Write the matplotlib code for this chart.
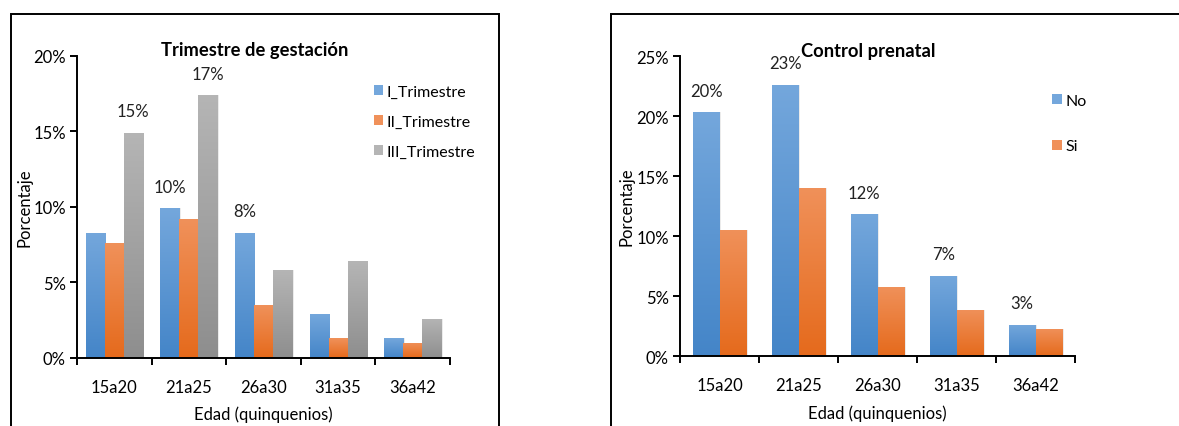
import matplotlib
matplotlib.use('Agg')
import matplotlib.pyplot as plt
import matplotlib.colors as mcolors
from matplotlib.patches import Rectangle
import numpy as np

plt.rcParams['font.family'] = ['Lato', 'DejaVu Sans']

# data
edades = ['15a20', '21a25', '26a30', '31a35', '36a42']
trim_I = [8.3, 9.9, 8.3, 2.9, 1.3]
trim_II = [7.6, 9.2, 3.5, 1.3, 1.0]
trim_III = [14.9, 17.4, 5.8, 6.4, 2.6]
ctrl_no = [20.3, 22.6, 11.8, 6.7, 2.6]
ctrl_si = [10.5, 14.0, 5.75, 3.85, 2.25]

# (top, bottom) colours of the excel style gradient
blue = ('#74a7dc', '#4485c8')
orange = ('#f0915a', '#e56a1c')
gray = ('#b5b5b5', '#8e8e8e')

FS = 12


def gradient_bars(ax, bars, cols):
    cmap = mcolors.LinearSegmentedColormap.from_list('g', [cols[1], cols[0]])
    grad = np.linspace(0, 1, 256).reshape(-1, 1)
    for b in bars:
        x0, y0 = b.get_x(), b.get_y()
        w, h = b.get_width(), b.get_height()
        # soft shadow
        ax.add_patch(Rectangle((x0 + 0.02, y0), w, h, color='#000000',
                               alpha=0.08, lw=0, zorder=1))
        im = ax.imshow(grad, extent=(x0, x0 + w, y0, y0 + h), origin='lower',
                       cmap=cmap, aspect='auto', zorder=2)
        im.set_clip_path(b)
        b.set_facecolor(cols[0])


def label_bars(ax, bars, values, which):
    for i in which:
        b = bars[i]
        ax.annotate(f'{values[i]:.0f}%', (b.get_x() + b.get_width() / 2, b.get_height()),
                    xytext=(0, 15.5), textcoords='offset points',
                    ha='center', va='center', fontsize=FS, color='#222222')


def style_axes(ax, ymax, n, xl, yl):
    ax.set_xlim(-0.5, n - 0.5)
    ax.set_ylim(0, ymax)
    for s in ['top', 'right']:
        ax.spines[s].set_visible(False)
    for s in ['left', 'bottom']:
        ax.spines[s].set_linewidth(1.4)
    ax.set_xticks(range(n))
    ax.set_xticklabels(edades, fontsize=FS)
    ax.set_xticks(np.arange(-0.5, n, 1), minor=True)
    ax.tick_params(axis='x', which='major', length=0, pad=15)
    ax.tick_params(axis='x', which='minor', length=5, width=1.4)
    ax.tick_params(axis='y', length=5, width=1.4, labelsize=FS, pad=3)
    ax.yaxis.set_major_formatter(lambda v, p: f'{v:.0f}%')
    ax.set_xlabel('Edad (quinquenios)', fontsize=FS)
    ax.set_ylabel('Porcentaje', fontsize=FS)
    ax.xaxis.set_label_coords(0.5, xl)
    ax.yaxis.set_label_coords(yl, 0.5)


fig = plt.figure(figsize=(11.79, 4.27), dpi=100)

# panel frames
fig.patches.append(Rectangle((0.0091, -0.05), 0.4141, 1.0156, transform=fig.transFigure,
                             fill=False, lw=1.4, ec='black'))
fig.patches.append(Rectangle((0.518, -0.05), 0.6, 1.0156, transform=fig.transFigure,
                             fill=False, lw=1.4, ec='black'))

# left: trimestre
ax1 = fig.add_axes([0.0653, 0.1593, 0.3164, 0.7073])
x = np.arange(len(edades))
w = 0.255
b1 = ax1.bar(x - w, trim_I, w, label='I_Trimestre', zorder=2)
b2 = ax1.bar(x, trim_II, w, label='II_Trimestre', zorder=2)
b3 = ax1.bar(x + w, trim_III, w, label='III_Trimestre', zorder=2)
gradient_bars(ax1, b1, blue)
gradient_bars(ax1, b2, orange)
gradient_bars(ax1, b3, gray)
style_axes(ax1, 20, len(edades), -0.157, -0.12)
ax1.set_yticks([0, 5, 10, 15, 20])
label_bars(ax1, b3, trim_III, [0, 1])
label_bars(ax1, b1, trim_I, [1, 2])
ax1.text(0.477, 1.02, 'Trimestre de gestación', transform=ax1.transAxes,
         ha='center', va='center', fontsize=13.2, fontweight='bold')
ax1.legend(loc='upper left', bbox_to_anchor=(0.795, 0.905), frameon=False,
           fontsize=11.5, handlelength=0.62, handleheight=0.62, handletextpad=0.2,
           labelspacing=1.0, borderpad=0, borderaxespad=0)

# right: control prenatal
ax2 = fig.add_axes([0.5768, 0.1639, 0.335, 0.7026])
w2 = 0.338
c1 = ax2.bar(x - w2 / 2, ctrl_no, w2, label='No', zorder=2)
c2 = ax2.bar(x + w2 / 2, ctrl_si, w2, label='Si', zorder=2)
gradient_bars(ax2, c1, blue)
gradient_bars(ax2, c2, orange)
style_axes(ax2, 25, len(edades), -0.16, -0.116)
ax2.set_yticks([0, 5, 10, 15, 20, 25])
label_bars(ax2, c1, ctrl_no, range(5))
ax2.text(0.476, 1.02, 'Control prenatal', transform=ax2.transAxes,
         ha='center', va='center', fontsize=13.2, fontweight='bold')
ax2.legend(loc='upper left', bbox_to_anchor=(0.943, 0.875), frameon=False,
           fontsize=11.5, handlelength=0.62, handleheight=0.62, handletextpad=0.2,
           labelspacing=2.0, borderpad=0, borderaxespad=0)

fig.savefig('out.png', dpi=100)
